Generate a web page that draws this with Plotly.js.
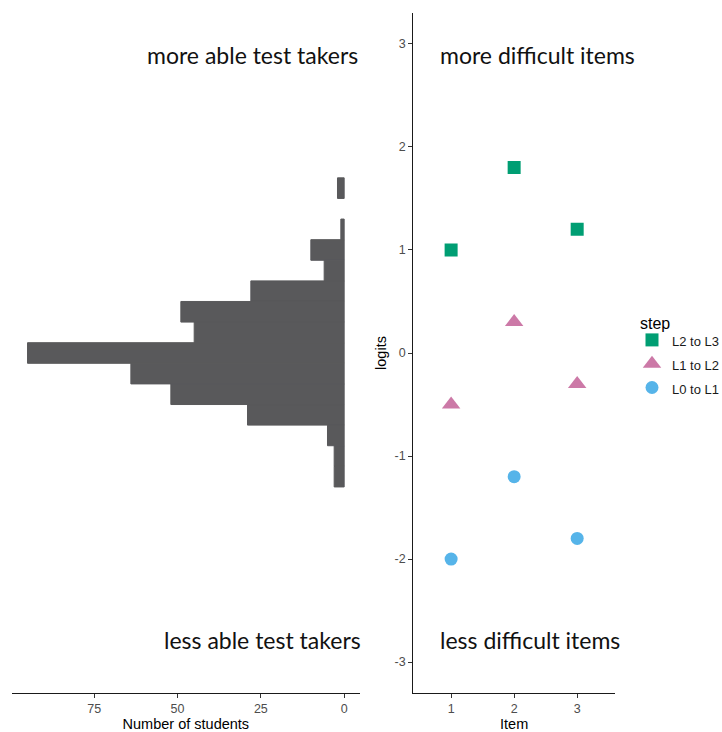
<!DOCTYPE html>
<html>
<head>
<meta charset="utf-8">
<script src="https://cdn.plot.ly/plotly-3.0.1.min.js"></script>
<style>html,body{margin:0;padding:0;background:#fff;overflow:hidden;}#chart{width:722px;height:732px;}</style>
</head>
<body>
<div id="chart"></div>
<script>
// ---- data ----
var binCenters = [1.6, 1.4, 1.2, 1.0, 0.8, 0.6, 0.4, 0.2, 0.0, -0.2, -0.4, -0.6, -0.8, -1.0, -1.2];
var studentCounts = [2, 0, 1, 10, 6, 28, 49, 45, 95, 64, 52, 29, 5, 3, 3];
var items = [1, 2, 3];
var stepL2L3 = [1.0, 1.8, 1.2];
var stepL1L2 = [-0.5, 0.3, -0.3];
var stepL0L1 = [-2.0, -1.2, -1.8];
var countTicks = [0, 25, 50, 75];
var logitTicks = [-3, -2, -1, 0, 1, 2, 3];
var itemTicks = [1, 2, 3];

var W = 722, H = 732;
function px(x){ return x / W; }
function py(y){ return 1 - y / H; }

var tickFont = {family: 'Liberation Sans, Arial, sans-serif', size: 12.5, color: '#4d4d4d'};
var titleFont = {family: 'Liberation Sans, Arial, sans-serif', size: 14.5, color: '#000'};
var annFont = {family: 'Lato, sans-serif', size: 23, color: '#111'};
var lbl = function(t){ return '<span style="font-size:13px">' + t + '</span>'; };
var barColor = '#59595b';
// outline only on non-empty bins (seals seams between adjacent bars)
var barLineWidths = studentCounts.map(function(c){ return c > 0 ? 1 : 0; });

var traces = [
  {type: 'bar', orientation: 'h', y: binCenters, x: studentCounts, width: 0.2,
   xaxis: 'x', yaxis: 'y', marker: {color: barColor, line: {width: barLineWidths, color: barColor}}, showlegend: false, hoverinfo: 'skip'},
  {type: 'scatter', mode: 'markers', x: items, y: stepL2L3, xaxis: 'x2', yaxis: 'y2', name: lbl('L2 to L3'),
   marker: {symbol: 'square', size: 13, color: '#009E73'}},
  {type: 'scatter', mode: 'markers', x: items, y: stepL1L2, xaxis: 'x2', yaxis: 'y2', name: lbl('L1 to L2'),
   marker: {symbol: 'triangle-up', size: 16, color: '#CC79A7'}},
  {type: 'scatter', mode: 'markers', x: items, y: stepL0L1, xaxis: 'x2', yaxis: 'y2', name: lbl('L0 to L1'),
   marker: {symbol: 'circle', size: 13, color: '#56B4E9'}}
];

var yDom = [py(693), py(13)];
var layout = {
  width: W, height: H,
  margin: {l: 0, r: 0, t: 0, b: 0, pad: 0, autoexpand: false},
  paper_bgcolor: '#fff', plot_bgcolor: 'rgba(0,0,0,0)',
  showlegend: true,
  legend: {
    xref: 'container', yref: 'container',
    x: px(632), xanchor: 'left', y: py(323), yanchor: 'top',
    font: {family: 'Liberation Sans, Arial, sans-serif', size: 16, color: '#1a1a1a'},
    traceorder: 'normal', itemsizing: 'trace', bgcolor: 'rgba(0,0,0,0)'
  },
  xaxis: {
    domain: [px(11.7), px(360)], anchor: 'y',
    range: [99.75, -4.75], showgrid: false, zeroline: false,
    showline: true, linecolor: '#1a1a1a', linewidth: 1.2,
    ticks: 'outside', ticklen: 4, tickcolor: '#333', tickwidth: 1,
    tickvals: countTicks, ticktext: countTicks.map(String), tickfont: tickFont,
    title: {text: 'Number of students', font: titleFont, standoff: 5}
  },
  yaxis: {
    domain: yDom, anchor: 'x', range: [-3.3, 3.3], visible: false, fixedrange: true
  },
  xaxis2: {
    domain: [px(413.3), px(615)], anchor: 'y2',
    range: [0.4, 3.6], showgrid: false, zeroline: false,
    showline: true, linecolor: '#1a1a1a', linewidth: 1.2,
    ticks: 'outside', ticklen: 4, tickcolor: '#333', tickwidth: 1,
    tickvals: itemTicks, ticktext: itemTicks.map(String), tickfont: tickFont,
    title: {text: 'Item', font: titleFont, standoff: 5}
  },
  yaxis2: {
    domain: yDom, anchor: 'x2', range: [-3.3, 3.3], showgrid: false, zeroline: false,
    showline: true, linecolor: '#1a1a1a', linewidth: 1.2,
    ticks: 'outside', ticklen: 4, tickcolor: '#333', tickwidth: 1,
    tickvals: logitTicks, ticktext: logitTicks.map(String), tickfont: tickFont,
    title: {text: 'logits', font: titleFont, standoff: 4}
  },
  annotations: [
    {text: 'more able test takers', xref: 'paper', yref: 'paper', x: px(359.5), y: py(54.5), xanchor: 'right', yanchor: 'middle', showarrow: false, font: annFont},
    {text: 'less able test takers', xref: 'paper', yref: 'paper', x: px(363), y: py(639.5), xanchor: 'right', yanchor: 'middle', showarrow: false, font: annFont},
    {text: 'more difficult items', xref: 'paper', yref: 'paper', x: px(437.5), y: py(54.5), xanchor: 'left', yanchor: 'middle', showarrow: false, font: annFont},
    {text: 'less difficult items', xref: 'paper', yref: 'paper', x: px(437.5), y: py(639.5), xanchor: 'left', yanchor: 'middle', showarrow: false, font: annFont},
    {text: 'step', xref: 'paper', yref: 'paper', x: px(638), y: py(323), xanchor: 'left', yanchor: 'middle', showarrow: false,
     font: {family: 'Liberation Sans, Arial, sans-serif', size: 16, color: '#000'}}
  ]
};

Plotly.newPlot('chart', traces, layout, {staticPlot: true, displayModeBar: false});
</script>
</body>
</html>
